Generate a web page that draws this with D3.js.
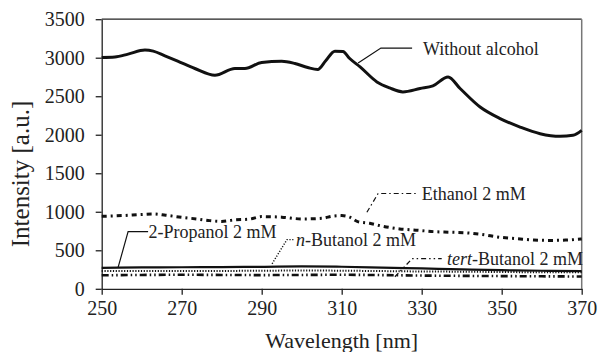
<!DOCTYPE html>
<html>
<head>
<meta charset="utf-8">
<script src="https://cdn.jsdelivr.net/npm/d3@7"></script>
<style>
  body { margin: 0; background: #fff; }
  .axis path, .axis line { stroke: #222; stroke-width: 1.3; }
</style>
</head>
<body>
<svg id="chart" width="601" height="352"></svg>
<script>
var serif = "'Liberation Serif', Tinos, 'Times New Roman', 'DejaVu Serif', serif";

// x ticks / y ticks
var x_ticks = [250, 270, 290, 310, 330, 350, 370];
var y_ticks = [0, 500, 1000, 1500, 2000, 2500, 3000, 3500];

// Without alcohol
var wl_none = [250, 253.3, 256.6, 260.8, 262.9, 265.8, 269, 273.3, 278.3, 283.3, 285.8, 290, 295, 298.3, 301.5, 304, 306, 308.3, 310.3, 312, 314.6, 318.8, 322, 325.3, 329.6, 332.8, 336.6, 339.6, 344.6, 349.6, 354.6, 359.6, 364.6, 367.8, 370];
var val_none = [3004, 3010, 3047, 3100, 3085, 3024, 2955, 2860, 2773, 2860, 2860, 2938, 2955, 2925, 2873, 2847, 2960, 3085, 3080, 2990, 2881, 2686, 2608, 2556, 2600, 2634, 2751, 2600, 2360, 2210, 2100, 2014, 1980, 1992, 2057];

// Ethanol 2 mM
var wl_eth = [250, 255, 260, 263, 266, 270, 274, 277, 280, 283, 287, 290, 295, 300, 305, 308, 310, 312, 314, 317, 320, 324.5, 329, 333, 337, 341.5, 345, 349.7, 354, 358, 362, 366, 370];
var val_eth = [941, 950, 965, 972, 955, 928, 905, 885, 875, 894, 905, 937, 930, 907, 915, 945, 950, 930, 872, 850, 815, 777, 760, 742, 735, 725, 705, 668, 650, 634, 628, 632, 647];

// the three low series share one wavelength grid
var wl_low = [250, 260, 270, 280, 290, 300, 310, 320, 330, 340, 350, 360, 370];
var val_prop = [272, 277, 280, 282, 285, 290, 286, 276, 264, 252, 242, 234, 230];
var val_nbut = [232, 230, 230, 232, 234, 238, 235, 230, 225, 222, 218, 215, 215];
var val_tbut = [175, 180, 182, 180, 178, 180, 182, 178, 172, 168, 165, 162, 160];

var svg = d3.select("#chart");

/* D3 margin convention */
var margin = {top: 19.2, right: 19.3, bottom: 63.2, left: 101.7},
    width = 601 - margin.left - margin.right,
    height = 352 - margin.top - margin.bottom;

var x = d3.scaleLinear().domain([250, 370]).range([0, width]),
    y = d3.scaleLinear().domain([0, 3500]).range([height, 0]);

var g = svg.append("g")
    .attr("transform", "translate(" + margin.left + "," + margin.top + ")");

/* frame: top and right border */
g.append("line").attr("x1", 0).attr("x2", width).attr("y1", 0).attr("y2", 0)
    .attr("stroke", "#222").attr("stroke-width", 1.3);
g.append("line").attr("x1", width).attr("x2", width).attr("y1", 0).attr("y2", height)
    .attr("stroke", "#777").attr("stroke-width", 1.5);

function tickText(s) {
  s.attr("font-family", serif);
  s.selectAll("text").style("font-family", serif).style("font-size", "20px").attr("fill", "#222");
}

g.append("g")
    .attr("class", "axis")
    .attr("transform", "translate(0," + height + ")")
    .call(d3.axisBottom(x).tickValues(x_ticks).tickFormat(d3.format("d")).tickSize(6).tickPadding(6).tickSizeOuter(0))
    .call(tickText);

g.append("g")
    .attr("class", "axis")
    .call(d3.axisLeft(y).tickValues(y_ticks).tickFormat(d3.format("d")).tickSize(6).tickPadding(11).tickSizeOuter(0))
    .call(tickText);

/* axis titles */
svg.append("text")
    .attr("x", margin.left + width / 2)
    .attr("y", 348)
    .attr("text-anchor", "middle")
    .style("font-family", serif)
    .style("font-size", "22px")
    .attr("fill", "#222")
    .text("Wavelength [nm]");

svg.append("text")
    .attr("transform", "translate(29,174) rotate(-90)")
    .attr("text-anchor", "middle")
    .style("font-family", serif)
    .style("font-size", "25px")
    .attr("fill", "#222")
    .text("Intensity [a.u.]");

function series(wl, vals) {
  return wl.map(function(w, i) { return {w: w, v: vals[i]}; });
}

var line = d3.line()
    .x(function(d) { return x(d.w); })
    .y(function(d) { return y(d.v); })
    .curve(d3.curveMonotoneX);

var lines = [
  {data: series(wl_low, val_tbut), width: 2.6, dash: "7,3,1.5,3,1.5,3"},
  {data: series(wl_low, val_nbut), width: 2, dash: "1.2,1.6"},
  {data: series(wl_low, val_prop), width: 2.2, dash: null},
  {data: series(wl_eth, val_eth), width: 3, dash: "5,4,2,4"},
  {data: series(wl_none, val_none), width: 3, dash: null}
];

g.selectAll(".series")
  .data(lines)
  .enter().append("path")
    .attr("class", "series")
    .attr("fill", "none")
    .attr("stroke", "#111")
    .attr("stroke-width", function(d) { return d.width; })
    .attr("stroke-dasharray", function(d) { return d.dash; })
    .attr("d", function(d) { return line(d.data); });

/* labels with leader lines, anchored in data units */
var labels = [
  {pts: [[314.1, 2930], [319.8, 3125], [327.6, 3125]], tx: 330.3, ty: 3112, text: [["", "Without alcohol"]], dash: null, width: 1.2},
  {pts: [[316.3, 993], [319.1, 1237], [329.1, 1237]], tx: 330, ty: 1237, text: [["", "Ethanol 2 mM"]], dash: "5,3,1.5,3", width: 1.2},
  {pts: [[254.1, 277], [256.6, 742], [261.6, 742]], tx: 261.7, ty: 742, text: [["", "2-Propanol 2 mM"]], dash: null, width: 1.2},
  {pts: [[292.6, 325], [296.3, 638], [298.3, 638]], tx: 298.6, ty: 638, text: [["i", "n"], ["", "-Butanol 2 mM"]], dash: "1.2,1.6", width: 1.4},
  {pts: [[323.3, 156], [327.6, 391], [335, 391]], tx: 336.3, ty: 391, text: [["i", "tert"], ["", "-Butanol 2 mM"]], dash: "5,3,1.5,3,1.5,3", width: 1.3}
];

var leader = d3.line()
    .x(function(p) { return x(p[0]); })
    .y(function(p) { return y(p[1]); });

labels.forEach(function(l) {
  g.append("path")
      .attr("d", leader(l.pts))
      .attr("fill", "none")
      .attr("stroke", "#111")
      .attr("stroke-width", l.width)
      .attr("stroke-dasharray", l.dash);
  var t = g.append("text")
      .attr("x", x(l.tx))
      .attr("y", y(l.ty))
      .attr("dy", "0.35em")
      .style("font-family", serif)
      .style("font-size", "18px")
      .attr("fill", "#222");
  l.text.forEach(function(part) {
    t.append("tspan")
        .style("font-style", part[0] === "i" ? "italic" : "normal")
        .text(part[1]);
  });
});
</script>
</body>
</html>
